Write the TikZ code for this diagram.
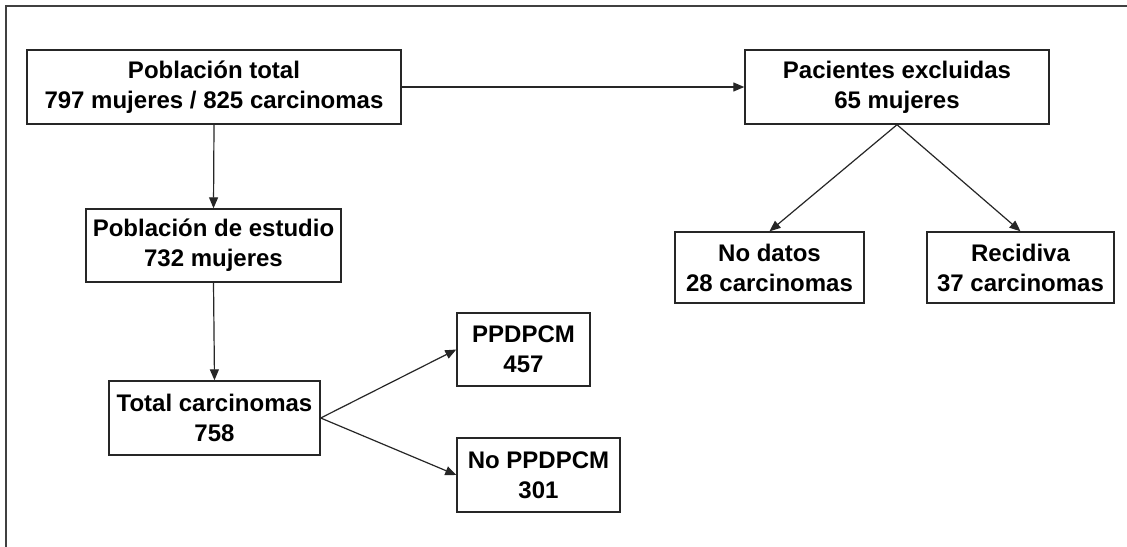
\documentclass[tikz,border=0pt]{standalone}
\usepackage{fontspec}
\setmainfont{Liberation Sans}
\usetikzlibrary{arrows.meta}

\tikzset{
    flowbox/.style={draw=black!85, line width=0.7pt, align=center, inner sep=0pt,
        font=\bfseries\fontsize{12}{15}\selectfont},
    flowarrow/.style={draw=black!85, line width=0.6pt, -{Triangle[length=5.5pt,width=4.5pt]}}
}

\begin{document}
\begin{tikzpicture}[x=0.5pt,y=-0.5pt]

% page and outer frame
\clip (0,0) rectangle (1127,546);
\fill[white] (0,0) rectangle (1127,546);
\draw[black!75, line width=1pt] (6,6) rectangle (1160,580);

% left column
\node[flowbox, minimum width=187pt, minimum height=37pt] (total) at (214,87)
    {Población total\\797 mujeres / 825 carcinomas};
\node[flowbox, minimum width=127.5pt, minimum height=36.5pt] (estudio) at (213.5,245.5)
    {Población de estudio\\732 mujeres};
\node[flowbox, minimum width=105.5pt, minimum height=37pt] (carc) at (214.5,418)
    {Total carcinomas\\758};

% PPDPCM split
\node[flowbox, minimum width=66.5pt, minimum height=36.5pt] (ppd) at (523.5,349.5)
    {PPDPCM\\457};
\node[flowbox, minimum width=81.5pt, minimum height=37pt] (noppd) at (538.5,475)
    {No PPDPCM\\301};

% excluded patients
\node[flowbox, minimum width=152pt, minimum height=37pt] (excl) at (897,87)
    {Pacientes excluidas\\65 mujeres};
\node[flowbox, minimum width=94.5pt, minimum height=35.5pt] (nodatos) at (769.5,267.5)
    {No datos\\28 carcinomas};
\node[flowbox, minimum width=93.5pt, minimum height=35.5pt] (recid) at (1020.5,267.5)
    {Recidiva\\37 carcinomas};

% connectors
\draw[flowarrow] (total.east) -- (excl.west);
\draw[flowarrow] (total.south) -- (estudio.north);
\draw[flowarrow] (estudio.south) -- (carc.north);
\draw[flowarrow] (carc.east) -- (ppd.west);
\draw[flowarrow] (carc.east) -- (noppd.west);
\draw[flowarrow] (excl.south) -- (nodatos.north);
\draw[flowarrow] (excl.south) -- (recid.north);

\end{tikzpicture}
\end{document}
